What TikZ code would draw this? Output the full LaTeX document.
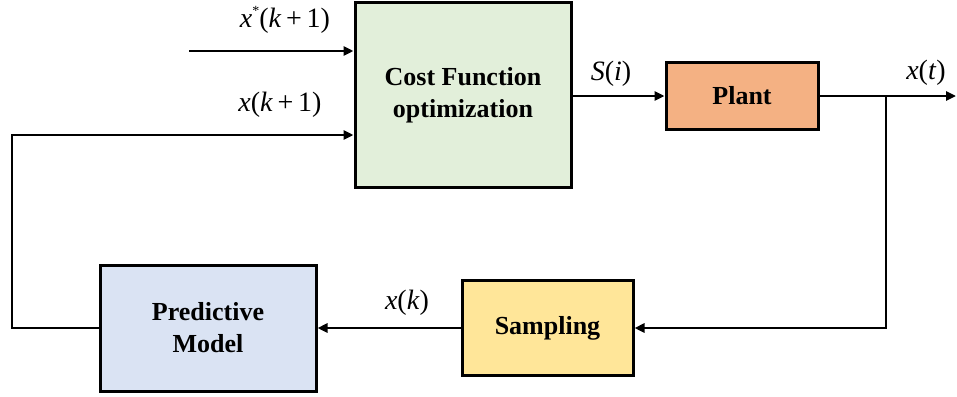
\documentclass[tikz,border=0pt]{standalone}
\usepackage{fontspec}
\setmainfont{Liberation Serif}
\usetikzlibrary{arrows.meta}
\definecolor{cgreen}{HTML}{E2EFDA}
\definecolor{corange}{HTML}{F4B183}
\definecolor{cblue}{HTML}{DAE3F3}
\definecolor{cyellow}{HTML}{FFE699}
\tikzset{
  blk/.style={draw=black, line width=3pt, align=center, inner sep=0pt,
    font=\fontsize{26}{32}\selectfont\bfseries},
  conn/.style={line width=2.8pt, -{Triangle[length=10pt,width=9pt]}},
  wire/.style={line width=2.8pt},
  lbl/.style={font=\fontsize{28}{30}\selectfont, inner sep=0pt}
}
\begin{document}
\begin{tikzpicture}[x=1pt,y=-1pt]
\useasboundingbox (0,0) rectangle (957,396);
\node[blk, fill=cgreen, minimum width=216pt, minimum height=184pt] (cost) at (463,95) {Cost Function\\optimization};
\node[blk, fill=corange, minimum width=152pt, minimum height=67pt] (plant) at (742,96) {Plant};
\node[blk, fill=cyellow, minimum width=171pt, minimum height=95pt] (samp) at (547.5,328) {Sampling};
\node[blk, fill=cblue, minimum width=216pt, minimum height=126pt] (pred) at (208,328) {Predictive\\Model};
\coordinate (in1) at (189,51);
\coordinate (lft) at (12,135);
\coordinate (br) at (886,96);
\coordinate (outend) at (956,96);
\coordinate (brb) at (886,328);
\draw[conn] (in1) -- (in1 -| cost.west);
\draw[conn] (pred.west) -| (lft) -- (lft -| cost.west);
\draw[conn] (cost.east |- plant.west) -- (plant.west);
\draw[wire] (plant.east) -- (br);
\draw[conn] (br) -- (outend);
\draw[conn] (br) -- (brb) -- (samp.east);
\draw[conn] (samp.west) -- (pred.east);
\node[lbl] (l1) at (285,20) {\textit{x}\raisebox{0.45em}{\fontsize{14}{14}\selectfont *}(\textit{k}\,+\,1)};
\node[lbl] (l2) at (280,105) {\textit{x}(\textit{k}\,+\,1)};
\node[lbl] (l3) at (611,74) {\textit{S}(\textit{i})};
\node[lbl] (l4) at (926,73) {\textit{x}(\textit{t})};
\node[lbl] (l5) at (407,303) {\textit{x}(\textit{k})};
\end{tikzpicture}
\end{document}
